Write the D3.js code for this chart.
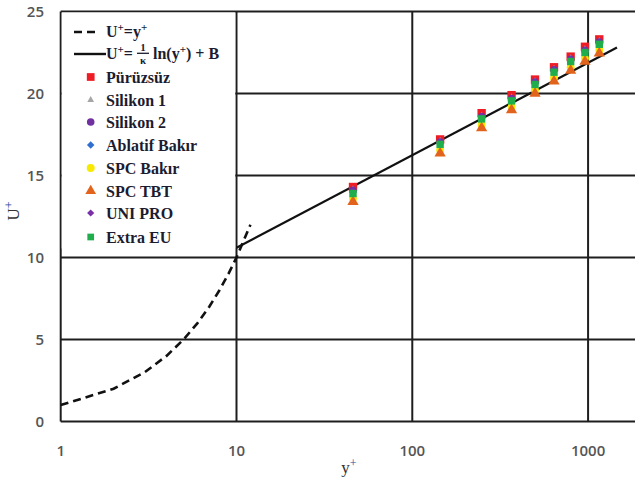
<!DOCTYPE html>
<html><head><meta charset="utf-8">
<script src="https://cdn.jsdelivr.net/npm/d3@7"></script>
<style>body{margin:0;background:#fff}svg{display:block}</style>
</head><body>
<svg id="c" width="635" height="477"></svg>
<script>
// ---- data ----
const yPlus = [46, 144, 248, 367, 499, 640, 796, 960, 1158];
const purusuz   = [14.3, 17.2, 18.8, 19.9, 20.85, 21.6, 22.25, 22.85, 23.3];
const silikon1  = [14.1, 17.05, 18.6, 19.7, 20.7, 21.45, 22.1, 22.65, 23.15];
const silikon2  = [14.1, 17.05, 18.6, 19.7, 20.7, 21.45, 22.1, 22.65, 23.15];
const ablatif   = [14.0, 17.0, 18.55, 19.65, 20.65, 21.4, 22.05, 22.6, 23.1];
const spcBakir  = [13.6, 16.55, 18.1, 19.2, 20.2, 20.95, 21.6, 22.15, 22.65];
const spcTBT    = [13.4, 16.35, 17.9, 19.0, 20.0, 20.75, 21.4, 21.95, 22.45];
const uniPro    = [14.05, 17.0, 18.6, 19.7, 20.65, 21.4, 22.05, 22.6, 23.1];
const extraEU   = [13.9, 16.9, 18.45, 19.55, 20.55, 21.3, 21.95, 22.5, 23.0];
const seriesNames = ["Pürüzsüz","Silikon 1","Silikon 2","Ablatif Bakır","SPC Bakır","SPC TBT","UNI PRO","Extra EU"];
// viscous sublayer U+ = y+
const viscX = [1, 2, 3, 4, 5, 6, 7, 8, 9, 10, 12];
const viscU = [1, 2, 3, 4, 5, 6, 7, 8, 9, 10, 12];
// log law line (straight on log axis) endpoints
const lawX = [10, 1460];
const lawU = [10.6, 22.8];
const xTicks = [1, 10, 100, 1000];
const yTicks = [0, 5, 10, 15, 20, 25];

// ---- styles ----
const styles = [
  {sym: d3.symbolSquare,  size: 70, color: "#ee1c25", lsize: 60, rot: 0},
  {sym: d3.symbolTriangle,size: 30, color: "#a6a6a6", lsize: 20, rot: 0},
  {sym: d3.symbolCircle,  size: 42, color: "#7030a0", lsize: 45, rot: 0},
  {sym: d3.symbolSquare,  size: 30, color: "#2f6fd1", lsize: 28, rot: 45},
  {sym: d3.symbolCircle,  size: 48, color: "#f7ea00", lsize: 50, rot: 0},
  {sym: d3.symbolTriangle,size: 55, color: "#e2641c", lsize: 50, rot: 0},
  {sym: d3.symbolSquare,  size: 26, color: "#7a30a8", lsize: 26, rot: 45},
  {sym: d3.symbolSquare,  size: 55, color: "#1fae4b", lsize: 45, rot: 0}
];
const seriesVals = [purusuz, silikon1, silikon2, ablatif, spcBakir, spcTBT, uniPro, extraEU];

const svg = d3.select("#c");
const x = d3.scaleLog().domain([1, 2000]).range([60.7, 641]);
const y = d3.scaleLinear().domain([0, 25]).range([421.5, 11.5]);

svg.append("defs").append("clipPath").attr("id","pc")
  .append("rect").attr("x",59).attr("y",10).attr("width",600).attr("height",413);

const g = svg.append("g");
const lineCol = "#1e1e1e";

// gridlines
g.selectAll(".hg").data(yTicks).join("line")
  .attr("x1", x(1)).attr("x2", 641).attr("y1", d=>y(d)).attr("y2", d=>y(d))
  .attr("stroke", lineCol).attr("stroke-width", 2);
g.selectAll(".vg").data(xTicks).join("line")
  .attr("x1", d=>x(d)).attr("x2", d=>x(d)).attr("y1", y(0)).attr("y2", y(25))
  .attr("stroke", lineCol).attr("stroke-width", 2);

// tick labels
g.selectAll(".yl").data(yTicks).join("text")
  .attr("x", 44).attr("y", d=>y(d)).attr("dy","0.36em").attr("text-anchor","end")
  .attr("font-family","'Open Sans', sans-serif").attr("font-size",15).attr("font-weight",600)
  .attr("fill","#555").text(d=>d);
g.selectAll(".xl").data(xTicks).join("text")
  .attr("x", d=>x(d)).attr("y", 456).attr("text-anchor","middle")
  .attr("font-family","'Open Sans', sans-serif").attr("font-size",15).attr("font-weight",600)
  .attr("fill","#555").text(d=>d);

// axis titles
svg.append("text").attr("x", 349).attr("y", 473).attr("text-anchor","middle")
  .attr("font-family","'Liberation Serif', serif").attr("font-size",17).attr("fill","#333")
  .html('y<tspan dy="-6" font-size="12" fill="#2a4a9a">+</tspan>');
svg.append("text").attr("transform","translate(19,211) rotate(-90)").attr("text-anchor","middle")
  .attr("font-family","'Liberation Serif', serif").attr("font-size",17).attr("fill","#333")
  .html('U<tspan dy="-6" font-size="12" fill="#2a4a9a">+</tspan>');

// legend background
svg.append("rect").attr("x", 61.7).attr("y", 12.5).attr("width", 173.5).attr("height", 236).attr("fill","#fff");

// curves
const pc = svg.append("g").attr("clip-path","url(#pc)");
const ln = d3.line().x(d=>x(d[0])).y(d=>y(d[1]));
pc.append("path").attr("d", ln(d3.zip(viscX, viscU))).attr("fill","none")
  .attr("stroke","#111").attr("stroke-width",2.6).attr("stroke-dasharray","8,5");
pc.append("path").attr("d", ln(d3.zip(lawX, lawU))).attr("fill","none")
  .attr("stroke","#111").attr("stroke-width",2.2);

// markers
seriesVals.forEach((vals, i) => {
  const st = styles[i];
  pc.selectAll(".m"+i).data(d3.zip(yPlus, vals)).join("path")
    .attr("transform", d=>`translate(${x(d[0])},${y(d[1])}) rotate(${st.rot})`)
    .attr("d", d3.symbol().type(st.sym).size(st.size))
    .attr("fill", st.color);
});

// legend
const lg = svg.append("g").attr("font-family","'Liberation Serif', serif").attr("font-weight","bold")
  .attr("font-size",16).attr("fill","#1c1c30");
lg.append("line").attr("x1",74).attr("x2",100).attr("y1",32).attr("y2",32)
  .attr("stroke","#111").attr("stroke-width",2.4).attr("stroke-dasharray","8,5");
lg.append("text").attr("x",106).attr("y",37)
  .html('U<tspan dy="-6" font-size="11">+</tspan><tspan dy="6">=y</tspan><tspan dy="-6" font-size="11">+</tspan>');
lg.append("line").attr("x1",74).attr("x2",106).attr("y1",54).attr("y2",54)
  .attr("stroke","#111").attr("stroke-width",2.4);
lg.append("text").attr("x",106).attr("y",59)
  .html('U<tspan dy="-6" font-size="11">+</tspan><tspan dy="6">=</tspan>');
lg.append("text").attr("x",143).attr("y",50.5).attr("text-anchor","middle").attr("font-size",11).text("1");
lg.append("line").attr("x1",137).attr("x2",149).attr("y1",53.3).attr("y2",53.3).attr("stroke","#1c1c30").attr("stroke-width",1.3);
lg.append("text").attr("x",143).attr("y",63.5).attr("text-anchor","middle").attr("font-size",11).text("κ");
lg.append("text").attr("x",153).attr("y",59)
  .html('ln(y<tspan dy="-6" font-size="11">+</tspan><tspan dy="6">) + B</tspan>');

const legY = [77, 100, 122, 145, 168, 191, 213, 237];
seriesNames.forEach((nm, i) => {
  const st = styles[i];
  lg.append("path").attr("transform",`translate(90.7,${legY[i]}) rotate(${st.rot})`)
    .attr("d", d3.symbol().type(st.sym).size(st.lsize)).attr("fill", st.color);
  lg.append("text").attr("x", 106).attr("y", legY[i]+5.5).text(nm);
});
</script>
</body></html>
